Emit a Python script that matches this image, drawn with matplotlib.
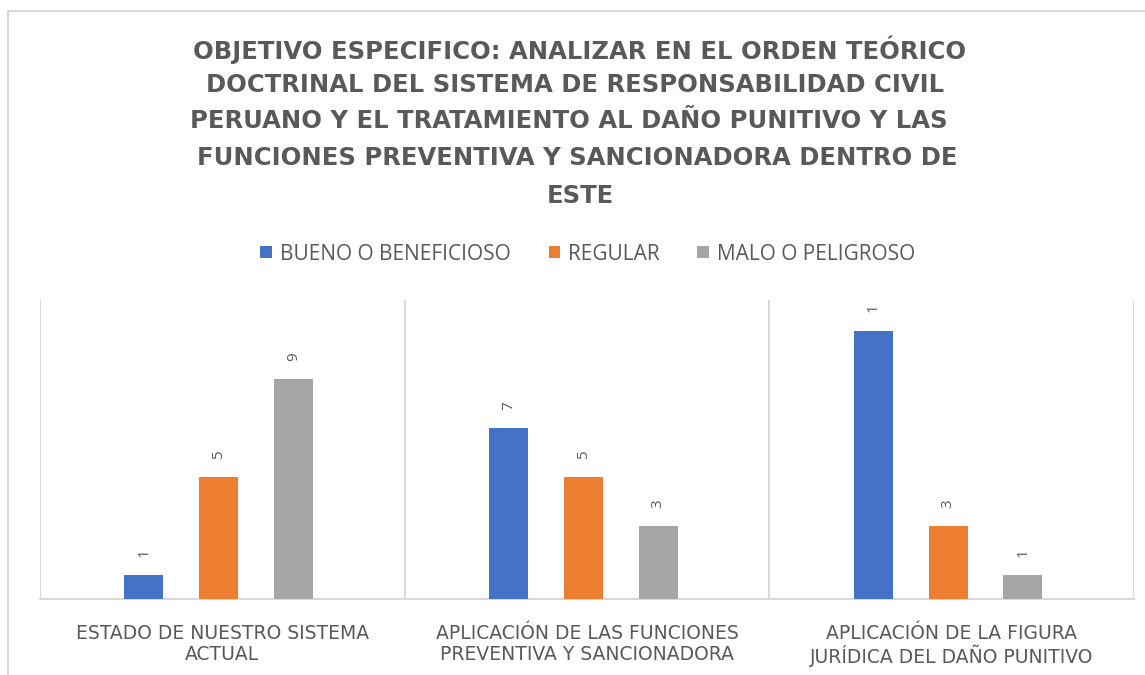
import matplotlib
matplotlib.use('Agg')
import matplotlib.pyplot as plt
import numpy as np
from matplotlib.lines import Line2D
from matplotlib.transforms import Bbox, TransformedBbox

categories = ['ESTADO DE NUESTRO SISTEMA\nACTUAL',
              'APLICACIÓN DE LAS FUNCIONES\nPREVENTIVA Y SANCIONADORA',
              'APLICACIÓN DE LA FIGURA\nJURÍDICA DEL DAÑO PUNITIVO']
series_names = ['BUENO O BENEFICIOSO', 'REGULAR', 'MALO O PELIGROSO']
bueno = [1, 7, 11]
regular = [5, 5, 3]
malo = [9, 3, 1]
title_lines = ['OBJETIVO ESPECIFICO: ANALIZAR EN EL ORDEN TEÓRICO',
               'DOCTRINAL DEL SISTEMA DE RESPONSABILIDAD CIVIL',
               'PERUANO Y EL TRATAMIENTO AL DAÑO PUNITIVO Y LAS',
               'FUNCIONES PREVENTIVA Y SANCIONADORA DENTRO DE',
               'ESTE']

colors = ['#4472C4', '#ED7D31', '#A5A5A5']
txt = '#595959'
grid = '#D9D9D9'
plt.rcParams['font.family'] = ['Open Sans', 'DejaVu Sans']

W, H = 1145, 675
fig = plt.figure(figsize=(W / 100, H / 100), dpi=100)
ax = fig.add_axes([40 / W, 76 / H, (1134 - 40) / W, 299 / H])

# labels that run past the plot area get cut, like the original
label_clip = TransformedBbox(Bbox([[0, 0], [1, 1 - 7 / 299]]), ax.transAxes)

x = np.arange(len(categories))
width = 0.107
offsets = [-0.215, -0.01, 0.195]
for vals, off, c, name in zip([bueno, regular, malo], offsets, colors, series_names):
    bars = ax.bar(x + off, vals, width, color=c, label=name, zorder=3)
    for b, v in zip(bars, vals):
        a = ax.annotate(str(v), (b.get_x() + b.get_width() / 2, b.get_height()),
                        xytext=(0, 13), textcoords='offset points', rotation=90,
                        ha='center', va='bottom', fontsize=11, color=txt,
                        annotation_clip=False)
        a.set_clip_box(label_clip)
        a.set_clip_on(True)

ax.set_xlim(-0.5, 2.5)
ax.set_ylim(0, 12.25)
ax.set_yticks([])
for s in ['top', 'left', 'right']:
    ax.spines[s].set_visible(False)
ax.spines['bottom'].set_color(grid)
ax.spines['bottom'].set_linewidth(1.5)
for xv in [-0.5, 0.5, 1.5, 2.5]:
    ax.axvline(xv, color=grid, lw=1.5, zorder=1)
ax.set_xticks(x)
ax.set_xticklabels(categories, fontsize=13.5, color=txt, linespacing=1.1,
                   family='DejaVu Sans')
ax.tick_params(axis='x', length=0, pad=18)

# title, one line at a time
ys = [50, 85, 121, 158, 196]
xs = [580, 575, 569, 577, 580]
for line, xx, yy in zip(title_lines, xs, ys):
    fig.text(xx / W, 1 - yy / H, line, ha='center', va='center',
             fontsize=17.5, fontweight='bold', color=txt, family='DejaVu Sans')

fig.legend(loc='center', bbox_to_anchor=(588 / W, 1 - 254 / H), ncol=3,
           frameon=False, fontsize=15, labelcolor=txt, handlelength=0.55,
           handleheight=0.55, handletextpad=0.4, columnspacing=1.8)

# chart border
fig.add_artist(Line2D([8 / W, 8 / W], [0, 1 - 11 / H], color=grid, lw=1.5))
fig.add_artist(Line2D([8 / W, 1], [1 - 11 / H, 1 - 11 / H], color=grid, lw=1.5))

fig.savefig('out.png', dpi=100)
